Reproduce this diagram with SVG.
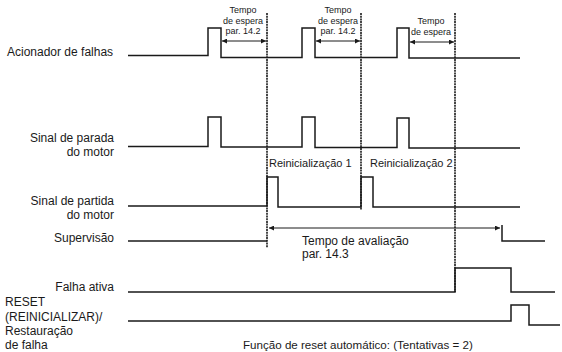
<svg xmlns="http://www.w3.org/2000/svg" width="562" height="352" viewBox="0 0 562 352">
<style>
text{font-family:"Liberation Sans",Arial,sans-serif;fill:#1a1a1a}
.lbl{font-size:12px}
.r{text-anchor:end}
.sm{font-size:9px;text-anchor:middle}
.re{font-size:11px}
.w{fill:none;stroke:#1a1a1a;stroke-width:1.5}
.d{fill:none;stroke:#1a1a1a;stroke-width:1.6;stroke-dasharray:2 0.7}
.a{fill:none;stroke:#1a1a1a;stroke-width:1;marker-start:url(#ah);marker-end:url(#ah)}
</style>
<defs>
<marker id="ah" viewBox="0 0 10 10" refX="10" refY="5" markerWidth="7" markerHeight="5" orient="auto-start-reverse" markerUnits="userSpaceOnUse">
<path d="M0,0 L10,5 L0,10 z" fill="#1a1a1a"/>
</marker>
</defs>
<rect width="562" height="352" fill="#fff"/>

<g id="acionador">
<text class="lbl" x="7" y="56">Acionador de falhas</text>
<polyline class="w" points="128,55.5 208,55.5 208,28 221,28 221,57.5 302,57.5 302,28 315,28 315,57.5 397,57.5 397,28 409,28 409,58 520,58"/>
</g>

<g id="parada">
<text class="lbl r" x="114" y="142">Sinal de parada</text>
<text class="lbl r" x="114" y="156">do motor</text>
<polyline class="w" points="128,146.5 208,146.5 208,117 221,117 221,147 302,147 302,117 315,117 315,147.5 397,147.5 397,118 409,118 409,148 520,148"/>
</g>

<g id="partida">
<text class="lbl r" x="114" y="205">Sinal de partida</text>
<text class="lbl r" x="114" y="219">do motor</text>
<polyline class="w" points="128,206 267,206 267,177 278,177 278,207 361,207 361,177 373,177 373,207 520,207"/>
<text class="re" x="269" y="167">Reinicialização 1</text>
<text class="re" x="370" y="167">Reinicialização 2</text>
</g>

<g id="supervisao">
<text class="lbl r" x="114" y="242">Supervisão</text>
<polyline class="w" points="128,241 267,241"/>
<polyline class="w" points="502,225 502,241 545,241"/>
<text class="lbl" x="302" y="245">Tempo de avaliação</text>
<text class="lbl" x="302" y="258">par. 14.3</text>
</g>

<g id="falha-ativa">
<text class="lbl r" x="114" y="291">Falha ativa</text>
<polyline class="w" points="128,292 455,292 455,268 511,268 511,292 555,292"/>
</g>

<g id="reset">
<text class="lbl" x="5" y="306">RESET</text>
<text class="lbl" x="5" y="321">(REINICIALIZAR)/</text>
<text class="lbl" x="5" y="335">Restauração</text>
<text class="lbl" x="5" y="349">de falha</text>
<polyline class="w" points="128,321 511,321 511,305 529,305 529,325 560,325"/>
</g>

<g id="tempos">
<text class="sm" x="243" y="13">Tempo</text>
<text class="sm" x="243" y="24">de espera</text>
<text class="sm" x="243" y="34">par. 14.2</text>
<text class="sm" x="338" y="13">Tempo</text>
<text class="sm" x="338" y="24">de espera</text>
<text class="sm" x="338" y="34">par. 14.2</text>
<text class="sm" x="431" y="24">Tempo</text>
<text class="sm" x="431" y="35">de espera</text>
</g>

<g id="connectors">
<line class="d" x1="267" y1="13" x2="267" y2="248"/>
<line class="d" x1="361" y1="13" x2="361" y2="210"/>
<line class="d" x1="455" y1="13" x2="455" y2="292"/>
<line class="a" x1="222" y1="41" x2="266" y2="41"/>
<line class="a" x1="316" y1="41" x2="360" y2="41"/>
<line class="a" x1="410" y1="42" x2="454" y2="42"/>
<line class="a" x1="269" y1="228" x2="500" y2="228"/>
</g>

<text class="lbl" x="243" y="349" style="font-size:11.6px">Função de reset automático: (Tentativas = 2)</text>
</svg>
